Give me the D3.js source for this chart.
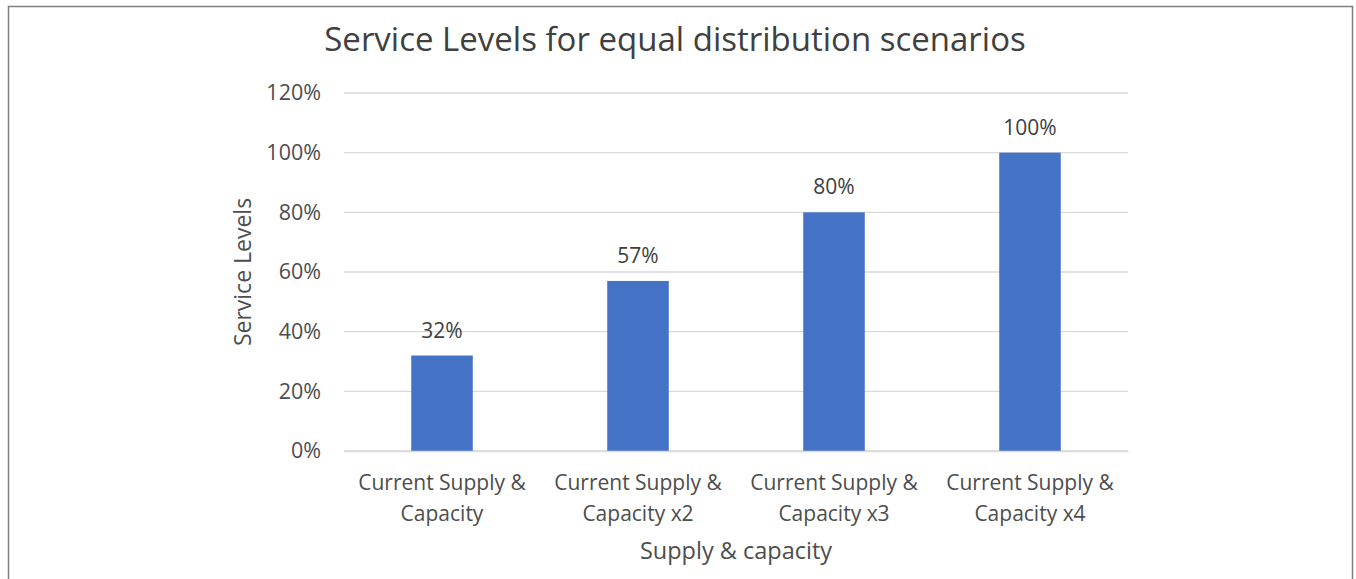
<!DOCTYPE html>
<html><head><meta charset="utf-8">
<script src="https://cdn.jsdelivr.net/npm/d3@7"></script>
<style>body{margin:0;background:#fff;} svg{display:block;font-family:"Open Sans",sans-serif;} svg text{font-family:"Open Sans",sans-serif;}</style>
</head><body>
<svg id="c" width="1356" height="579"></svg>
<script>
const categories = [["Current Supply &","Capacity"],["Current Supply &","Capacity x2"],["Current Supply &","Capacity x3"],["Current Supply &","Capacity x4"]];
const values = [0.32, 0.57, 0.80, 1.00];
const valueLabels = ["32%","57%","80%","100%"];
const yTicks = [0,0.2,0.4,0.6,0.8,1.0,1.2];
const title = "Service Levels for equal distribution scenarios";
const xTitle = "Supply & capacity";
const yTitle = "Service Levels";

const svg = d3.select("#c");
svg.append("rect").attr("x",8.5).attr("y",6.5).attr("width",1344).attr("height",600)
  .attr("fill","#fff").attr("stroke","#7f7f7f").attr("stroke-width",1.5);

const L=344,R=1128,T=93,B=451;
const x = d3.scaleBand().domain(d3.range(categories.length)).range([L,R]).paddingInner(0.686).paddingOuter(0.343);
const y = d3.scaleLinear().domain([0,1.2]).range([B,T]);

const g = svg.append("g");
g.selectAll("line.grid").data(yTicks).join("line").attr("class","grid")
  .attr("x1",L).attr("x2",R).attr("y1",d=>y(d)).attr("y2",d=>y(d))
  .attr("stroke","#d9d9d9").attr("stroke-width",1.3);

const yAxis = g.append("g").attr("transform",`translate(${L},0)`)
  .call(d3.axisLeft(y).tickValues(yTicks).tickFormat(d3.format(".0%")).tickSize(0).tickPadding(23));
yAxis.attr("font-family",null).attr("font-size",null);
yAxis.select(".domain").remove();
yAxis.selectAll("text").attr("font-size",21.5).attr("fill","#4d4d4d");

g.selectAll("rect.bar").data(values).join("rect").attr("class","bar")
  .attr("x",(d,i)=>x(i)).attr("width",x.bandwidth())
  .attr("y",d=>y(d)).attr("height",d=>B-y(d)).attr("fill","#4472c4");

g.selectAll("text.vl").data(values).join("text").attr("class","vl")
  .attr("x",(d,i)=>x(i)+x.bandwidth()/2).attr("y",d=>y(d)-18)
  .attr("text-anchor","middle").attr("font-size",21).attr("fill","#404040")
  .text((d,i)=>valueLabels[i]);

const xAxis = g.append("g").attr("transform",`translate(0,${B})`)
  .call(d3.axisBottom(x).tickSize(0).tickFormat(""));
xAxis.attr("font-family",null).attr("font-size",null);
xAxis.select(".domain").attr("stroke","#d9d9d9").attr("stroke-width",1.3);
xAxis.selectAll(".tick").each(function(d,i){
  const t = d3.select(this).append("text").attr("fill","#4d4d4d").attr("font-size",21)
    .attr("text-anchor","middle");
  categories[i].forEach((ln,j)=>t.append("tspan").attr("x",0).attr("y",39+j*31).text(ln));
});

svg.append("text").attr("x",675).attr("y",51).attr("text-anchor","middle")
  .attr("font-size",33).attr("fill","#404040").text(title);
svg.append("text").attr("x",736).attr("y",559).attr("text-anchor","middle")
  .attr("font-size",23.5).attr("fill","#4d4d4d").text(xTitle);
svg.append("text").attr("transform","translate(251,272) rotate(-90)").attr("text-anchor","middle")
  .attr("font-size",23).attr("fill","#4d4d4d").text(yTitle);
</script>
</body></html>
